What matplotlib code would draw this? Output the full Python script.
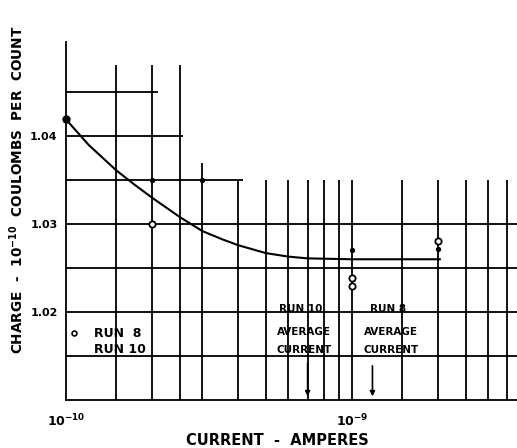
import numpy as np
import matplotlib
matplotlib.use('Agg')
import matplotlib.pyplot as plt
from matplotlib.lines import Line2D

# data (current in amperes, charge in 1e-10 C per count)
run8_x = [2e-10, 1e-9, 1e-9, 2e-9]
run8_y = [1.0300, 1.0239, 1.0230, 1.0281]
run10_x = [2e-10, 3e-10, 1e-9, 2e-9]
run10_y = [1.0350, 1.0350, 1.0270, 1.0272]
start_x = [1e-10]
start_y = [1.0419]
fit_x = [1e-10, 1.2e-10, 1.5e-10, 1.75e-10, 2e-10, 2.5e-10, 3e-10, 3.5e-10,
         4e-10, 5e-10, 6e-10, 7e-10, 1e-9, 2.03e-9]
fit_y = [1.0419, 1.0390, 1.0361, 1.0344, 1.0330, 1.0308, 1.0292, 1.0283,
         1.0276, 1.0267, 1.0263, 1.0261, 1.0260, 1.0260]
avg_run10 = 7e-10
avg_run8 = 1.18e-9

# graph paper rulings
vx_tall = [1.5e-10, 2e-10, 2.5e-10]
vx_mid = [3e-10]
vx_short = [4e-10, 5e-10, 6e-10, 7e-10, 8e-10, 9e-10, 1e-9, 1.5e-9, 2e-9,
            2.5e-9, 3e-9, 3.5e-9]
hy_full = [1.015, 1.02, 1.025, 1.03]

plt.rcParams['font.family'] = 'DejaVu Sans'
plt.rcParams['font.weight'] = 'bold'
plt.rcParams['mathtext.default'] = 'bf'

fig = plt.figure(figsize=(5.17, 4.48), dpi=100)
ax = fig.add_axes([66/517, 1-400/448, 1-66/517, (400-42)/448])
ax.set_xscale('log')
xmin, xmax = 1e-10, 3.78e-9
ax.set_xlim(xmin, xmax)
ax.set_ylim(1.01, 1.0507)

lw = 1.3
ax.vlines(vx_tall, 1.01, 1.0481, color='black', lw=lw)
ax.vlines(vx_mid, 1.01, 1.037, color='black', lw=lw)
ax.vlines(vx_short, 1.01, 1.035, color='black', lw=lw)
ax.hlines(hy_full, xmin, xmax, color='black', lw=lw)
ax.hlines([1.045], xmin, 2.1e-10, color='black', lw=lw)
ax.hlines([1.04], xmin, 2.57e-10, color='black', lw=lw)
ax.hlines([1.035], xmin, 4.16e-10, color='black', lw=lw)

for s in ['top', 'right']:
    ax.spines[s].set_visible(False)
for s in ['left', 'bottom']:
    ax.spines[s].set_linewidth(lw)

ax.plot(fit_x, fit_y, color='black', lw=1.5, zorder=3)
ax.plot(run8_x, run8_y, 'o', ms=4.5, mfc='white', mec='black', mew=1.3,
        zorder=4, clip_on=False)
ax.plot(run10_x, run10_y, 'o', ms=2.8, color='black', zorder=4)
ax.plot(start_x, start_y, 'o', ms=5, color='black', zorder=5, clip_on=False)

ax.set_yticks([1.02, 1.03, 1.04])
ax.set_yticklabels(['1.02', '1.03', '1.04'], fontsize=8, fontweight='bold')
ax.set_xticks([1e-10, 1e-9])
ax.set_xticklabels([r'$10^{-10}$', r'$10^{-9}$'], fontsize=9)
ax.minorticks_off()
ax.tick_params(axis='both', length=0)
ax.tick_params(axis='y', pad=6)
ax.tick_params(axis='x', pad=9)

# annotations
fs = 7.5
ax.text(6.6e-10, 1.0204, 'RUN 10', ha='center', va='center', fontsize=fs)
ax.text(1.34e-9, 1.0204, 'RUN 8', ha='center', va='center', fontsize=fs)
ax.text(6.8e-10, 1.0177, 'AVERAGE', ha='center', va='center', fontsize=fs)
ax.text(1.37e-9, 1.0177, 'AVERAGE', ha='center', va='center', fontsize=fs)
ax.text(6.8e-10, 1.0157, 'CURRENT', ha='center', va='center', fontsize=fs)
ax.text(1.37e-9, 1.0157, 'CURRENT', ha='center', va='center', fontsize=fs)
ax.annotate('', xy=(avg_run10, 1.0101), xytext=(avg_run10, 1.0145),
            arrowprops=dict(arrowstyle='-|>', color='black', lw=1.2,
                            mutation_scale=7))
ax.annotate('', xy=(avg_run8, 1.0101), xytext=(avg_run8, 1.0142),
            arrowprops=dict(arrowstyle='-|>', color='black', lw=1.2,
                            mutation_scale=7))

handles = [Line2D([], [], ls='none', marker='o', ms=3.5, mfc='white',
                  mec='black', mew=1.2),
           Line2D([], [], ls='none', marker='.', ms=0)]
ax.legend(handles, ['RUN  8', 'RUN 10'], loc='upper left',
          bbox_to_anchor=(0.0, 0.21), frameon=False, fontsize=9,
          handlelength=0.8, handletextpad=1.2, labelspacing=0.2,
          borderaxespad=0.0, borderpad=0.2)

fig.text(277/517, 1-440/448, 'CURRENT  -  AMPERES', ha='center', va='center',
         fontsize=10.5, fontweight='bold')
fig.text(17/517, 1-190/448, r'CHARGE  -  10$^{-10}$  COULOMBS  PER  COUNT',
         ha='center', va='center', rotation=90, fontsize=9.8,
         fontweight='bold')

fig.savefig('out.png', dpi=100)
